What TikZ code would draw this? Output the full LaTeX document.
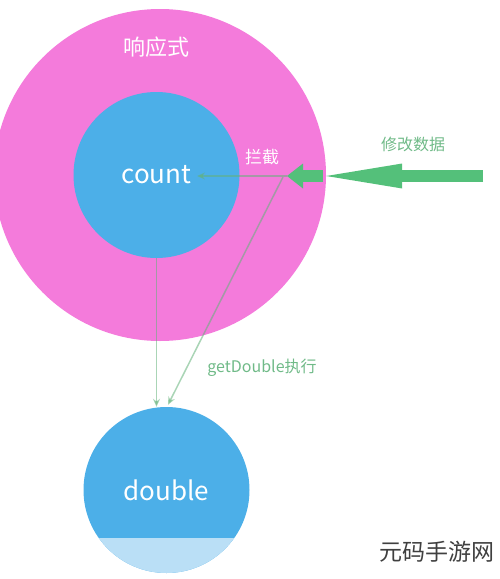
\documentclass[tikz,border=0pt]{standalone}
\usepackage{fontspec}
\setmainfont{Noto Sans CJK SC}
\usetikzlibrary{positioning,calc,arrows.meta}

\definecolor{reactpink}{RGB}{244,123,219}
\definecolor{cellblue}{RGB}{76,175,232}
\definecolor{cellpale}{RGB}{186,223,246}
\definecolor{flowgreen}{RGB}{84,192,122}
\definecolor{linegreen}{RGB}{100,178,122}
\definecolor{labelgreen}{RGB}{112,186,136}

\begin{document}
\begin{tikzpicture}[x=1pt,y=-1pt,
   bubble/.style={circle,fill=#1,inner sep=0pt,text=white,font=\fontsize{26}{26}\selectfont},
   bubble/.default=cellblue,
   watch/.style={draw=linegreen,line width=1.5pt,opacity=0.55,-{Stealth[length=8pt,width=7pt]}},
   push/.style={draw=flowgreen,line width=12pt,-{Triangle[length=#1,width=25pt,line width=0pt]}},
   tag/.style={text=labelgreen,font=\fontsize{16}{16}\selectfont}]

   \useasboundingbox (0,0) rectangle (500,579);

   \node[bubble=reactpink,minimum size=332pt] (react) at (160,175) {};
   \node[text=white,font=\fontsize{22}{22}\selectfont] (react_lbl) at (156,47) {响应式};

   \node[bubble,minimum size=166pt] (count) at (156.5,175) {count};
   \node[bubble,minimum size=166pt] (double) at (166.5,490) {double};

   %pale bottom of double
   \begin{scope}
   \clip (double.center) circle (83pt);
   \fill[cellpale] ($(double.west)+(-2,48)$) rectangle ($(double.south)+(90,2)$);
   \end{scope}

   \coordinate (src) at (483,176);
   \coordinate (hit) at (287,176);
   \coordinate (count_in) at (197,176);

   \draw[push=76pt] (src) -- (react.east |- src);
   \draw[push=16pt] ($(react.east |- src)+(-3,0)$) -- (hit);

   \draw[watch] (hit) -- (count_in);
   \draw[watch] (count.south) -- (count.south |- double.north);
   \draw[watch] ($(hit)+(-4,1)$) -- ($(double.north)+(1.5,-2)$);

   \node[tag] (edit_lbl) at (413,144) {修改数据};
   \node[text=white,font=\fontsize{17}{17}\selectfont] (catch_lbl) at (262,157) {拦截};
   \node[tag] (run_lbl) at (262,368) {getDouble执行};

   \node[text=black!75,font=\fontsize{23}{23}\selectfont] (mark) at (437,552) {元码手游网};

\end{tikzpicture}
\end{document}
